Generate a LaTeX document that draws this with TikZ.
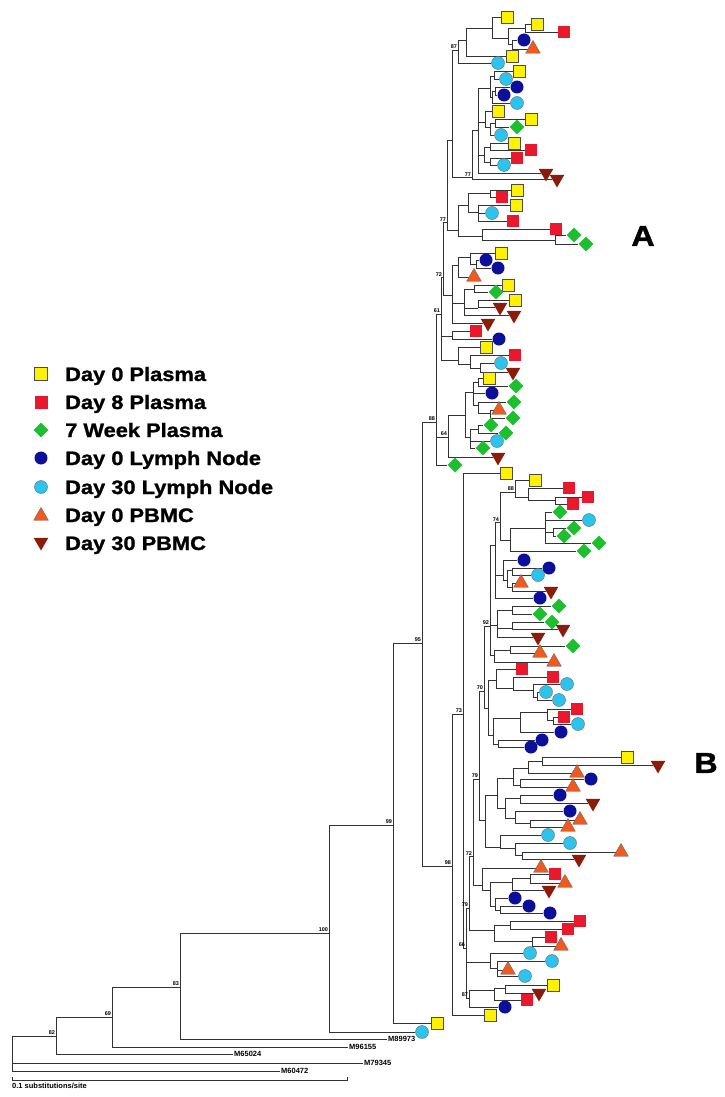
\documentclass[tikz,border=0pt]{standalone}
\usepackage{fontspec}
\setmainfont{Liberation Sans}
\newfontfamily\keyfont{Liberation Sans}[FakeStretch=1.12, BoldFeatures={FakeBold=1.2}]
\usetikzlibrary{shapes.geometric, backgrounds}

\definecolor{plasmaY}{HTML}{FFF200}
\definecolor{plasmaR}{HTML}{E8192C}
\definecolor{weekG}{HTML}{1DBF2F}
\definecolor{lymphB}{HTML}{0B0F9A}
\definecolor{lymphC}{HTML}{2CC4EC}
\definecolor{pbmcO}{HTML}{F05A1E}
\definecolor{pbmcD}{HTML}{8A1C0C}

\tikzset{
  sqY/.style={rectangle, draw=black!70, line width=0.4pt, fill=plasmaY, minimum size=12pt, inner sep=0pt},
  sqR/.style={rectangle, fill=plasmaR, minimum size=12.5pt, inner sep=0pt},
  dmG/.style={diamond, fill=weekG, minimum size=15pt, inner sep=0pt},
  ciB/.style={circle, fill=lymphB, minimum size=13pt, inner sep=0pt},
  ciC/.style={circle, draw=black!60, line width=0.4pt, fill=lymphC, minimum size=13pt, inner sep=0pt},
  trO/.style={regular polygon, regular polygon sides=3, draw=black!60, line width=0.4pt, fill=pbmcO, minimum size=17pt, inner sep=0pt},
  trD/.style={regular polygon, regular polygon sides=3, shape border rotate=180, fill=pbmcD, minimum size=17pt, inner sep=0pt},
  taxon/.style={anchor=west, inner sep=1pt, font=\bfseries\fontsize{7.5}{8}\selectfont},
  boot/.style={anchor=south east, inner sep=0.8pt, font=\bfseries\fontsize{5.5}{6}\selectfont},
  keytext/.style={anchor=base west, inner sep=0pt, font=\keyfont\bfseries\fontsize{19.5}{22}\selectfont},
  clade/.style={inner sep=0pt, font=\keyfont\bfseries\fontsize{29}{30}\selectfont},
  branch/.style={line width=0.7pt, black!80},
}

\begin{document}
\begin{tikzpicture}[x=1pt, y=-1pt]
\useasboundingbox (0,0) rectangle (724,1097);

% backbone
\coordinate (r) at (12,1050);
\coordinate (n82) at (56,1036);
\coordinate (n69) at (112,1017);
\coordinate (n83) at (180,987);
\coordinate (n100) at (329,933);
\coordinate (n99) at (393,825);
\coordinate (n95) at (422,643);
\coordinate (n88) at (436,422);
\coordinate (n98) at (452,866);
\coordinate (n73) at (463,714);

\node[taxon] (m79345) at (363,1063) {M79345};
\node[taxon] (m60472) at (280,1071) {M60472};
\node[taxon] (m65024) at (233,1054) {M65024};
\node[taxon] (m96155) at (348,1047) {M96155};
\node[taxon] (m89973) at (387,1039) {M89973};
\node[ciC] (o1) at (422,1032) {};
\node[sqY] (o2) at (437,1023) {};

% clade A
\coordinate (n61) at (441,314);
\coordinate (n64) at (448,437);
\coordinate (n72a) at (443,277);
\coordinate (nA41) at (452,336);
\coordinate (nA43) at (458,360);
\coordinate (nA44) at (470,364);
\coordinate (nA45) at (480,368);
\coordinate (n77a) at (447,222);
\coordinate (nA31) at (452,295);
\coordinate (nA32) at (458,265);
\coordinate (nA32b) at (470,257);
\coordinate (nA33) at (476,264);
\coordinate (nA35) at (464,303);
\coordinate (nA36) at (474,289);
\coordinate (nA37) at (478,308);
\coordinate (nTop) at (452,140);
\coordinate (nK5) at (458,230);
\coordinate (nK5x) at (468,205);
\coordinate (nK5a) at (490,193);
\coordinate (nK5c) at (478,212);
\coordinate (nK5y) at (482,236);
\coordinate (nK5f) at (555,240);
\coordinate (n87) at (458,50);
\coordinate (n87a) at (466,40);
\coordinate (nK1) at (492,28);
\coordinate (nK1b) at (508,38);
\coordinate (nK1c) at (525,28);
\coordinate (nK1d) at (512,44);
\coordinate (n77b) at (472,177);
\coordinate (nMid) at (478,130);
\coordinate (nK2) at (490,88);
\coordinate (nK2a) at (494,76);
\coordinate (nK2b) at (492,97);
\coordinate (nK2c) at (495,91);
\coordinate (nK3) at (485,122);
\coordinate (nK3a) at (490,127);
\coordinate (nK3b) at (495,123);
\coordinate (nK4) at (484,155);
\coordinate (nK4a) at (490,147);
\coordinate (nK4b) at (490,162);
\coordinate (nB1) at (465,415);
\coordinate (nB2) at (473,392);
\coordinate (nB2a) at (478,382);
\coordinate (nB2b) at (478,405);
\coordinate (nB2c) at (490,413);
\coordinate (nB3) at (470,437);
\coordinate (nB3a) at (478,429);

\node[sqY] (a1) at (507,17) {};
\node[sqY] (a2) at (537,24) {};
\node[sqR] (a3) at (564,32) {};
\node[ciB] (a4) at (524,40) {};
\node[trO] (a5) at (533,49) {};
\node[sqY] (a6) at (512,56) {};
\node[ciC] (a7) at (498,63) {};
\node[sqY] (a8) at (519,71) {};
\node[ciC] (a9) at (506,79) {};
\node[ciB] (a10) at (517,87) {};
\node[ciB] (a11) at (504,95) {};
\node[ciC] (a12) at (517,103) {};
\node[sqY] (a13) at (498,111) {};
\node[sqY] (a14) at (531,119) {};
\node[dmG] (a15) at (517,127) {};
\node[ciC] (a16) at (501,135) {};
\node[sqY] (a17) at (514,143) {};
\node[sqR] (a18) at (531,150) {};
\node[sqR] (a19) at (517,158) {};
\node[ciC] (a20) at (504,165) {};
\node[trD] (a21) at (546,173) {};
\node[trD] (a22) at (557,179) {};
\node[sqY] (a23) at (517,190) {};
\node[sqR] (a24) at (502,197) {};
\node[sqY] (a25) at (516,205) {};
\node[ciC] (a26) at (492,213) {};
\node[sqR] (a27) at (513,221) {};
\node[sqR] (a28) at (556,229) {};
\node[dmG] (a29) at (574,235) {};
\node[dmG] (a30) at (586,244) {};
\node[sqY] (a31) at (501,253) {};
\node[ciB] (a32) at (486,260) {};
\node[ciB] (a33) at (498,268) {};
\node[trO] (a34) at (474,277) {};
\node[sqY] (a35) at (508,285) {};
\node[dmG] (a36) at (496,292) {};
\node[sqY] (a37) at (515,300) {};
\node[trD] (a38) at (500,307) {};
\node[trD] (a39) at (514,315) {};
\node[trD] (a40) at (488,323) {};
\node[sqR] (a41) at (476,331) {};
\node[ciB] (a42) at (499,339) {};
\node[sqY] (a43) at (486,347) {};
\node[sqR] (a44) at (515,355) {};
\node[ciC] (a45) at (501,363) {};
\node[trD] (a46) at (513,372) {};
\node[sqY] (a47) at (489,378) {};
\node[dmG] (a48) at (516,386) {};
\node[ciB] (a49) at (492,393) {};
\node[dmG] (a50) at (514,402) {};
\node[trO] (a51) at (499,410) {};
\node[dmG] (a52) at (513,418) {};
\node[dmG] (a53) at (491,425) {};
\node[dmG] (a54) at (506,433) {};
\node[ciC] (a55) at (497,441) {};
\node[dmG] (a56) at (483,448) {};
\node[trD] (a57) at (498,457) {};
\node[dmG] (a58) at (455,465) {};

% clade B
\coordinate (n66) at (466,948);
\coordinate (n79c) at (469,908);
\coordinate (n87b) at (469,998);
\coordinate (nL1) at (490,962);
\coordinate (nL1a) at (497,968);
\coordinate (nL2) at (494,990);
\coordinate (nL2a) at (505,988);
\coordinate (n72b) at (473,856);
\coordinate (nRa) at (494,930);
\coordinate (nRb) at (510,925);
\coordinate (nRc) at (532,941);
\coordinate (n79b) at (479,779);
\coordinate (nS) at (482,885);
\coordinate (nSa) at (490,890);
\coordinate (nSb) at (512,882);
\coordinate (nSb1) at (530,878);
\coordinate (nSc) at (495,906);
\coordinate (nSd) at (500,910);
\coordinate (n70) at (484,691);
\coordinate (nT) at (485,820);
\coordinate (nT1) at (497,795);
\coordinate (nT1a) at (513,778);
\coordinate (nT1c) at (528,768);
\coordinate (nT1d) at (542,761);
\coordinate (nT1f) at (520,785);
\coordinate (nT1b) at (505,808);
\coordinate (nT1g) at (520,798);
\coordinate (nT1h) at (515,818);
\coordinate (nT1i) at (530,823);
\coordinate (nT2) at (500,847);
\coordinate (nT2a) at (515,848);
\coordinate (nT2b) at (522,855);
\coordinate (n92) at (490,626);
\coordinate (nU) at (488,708);
\coordinate (nU1) at (496,680);
\coordinate (nU1a) at (513,688);
\coordinate (nU1b) at (533,690);
\coordinate (nU1c) at (537,697);
\coordinate (nU2) at (493,735);
\coordinate (nU2a) at (520,718);
\coordinate (nU2b) at (547,712);
\coordinate (nU2c) at (553,720);
\coordinate (nU2d) at (498,744);
\coordinate (nV) at (495,545);
\coordinate (n74) at (500,522);
\coordinate (n88b) at (515,492);
\coordinate (nR1) at (528,497);
\coordinate (nR2) at (555,500);
\coordinate (nG) at (510,540);
\coordinate (nG1) at (545,528);
\coordinate (nG1b) at (553,532);
\coordinate (nV1) at (503,575);
\coordinate (nV2) at (507,580);
\coordinate (nV3) at (512,570);
\coordinate (nV4) at (512,587);
\coordinate (nW) at (497,625);
\coordinate (nW1) at (512,610);
\coordinate (nW2) at (512,628);
\coordinate (nX2) at (494,655);
\coordinate (nX3) at (510,650);

\node[sqY] (b1) at (506,473) {};
\node[sqY] (b2) at (535,480) {};
\node[sqR] (b3) at (569,488) {};
\node[sqR] (b4) at (588,497) {};
\node[sqR] (b5) at (573,504) {};
\node[dmG] (b6) at (560,512) {};
\node[ciC] (b7) at (589,520) {};
\node[dmG] (b8) at (574,528) {};
\node[dmG] (b9) at (564,536) {};
\node[dmG] (b10) at (599,543) {};
\node[dmG] (b11) at (584,551) {};
\node[ciB] (b12) at (524,560) {};
\node[ciB] (b13) at (549,568) {};
\node[ciC] (b14) at (538,575) {};
\node[trO] (b15) at (521,583) {};
\node[trD] (b16) at (551,591) {};
\node[ciB] (b17) at (540,598) {};
\node[dmG] (b18) at (559,606) {};
\node[dmG] (b19) at (540,614) {};
\node[dmG] (b20) at (552,622) {};
\node[trD] (b21) at (563,629) {};
\node[trD] (b22) at (538,637) {};
\node[dmG] (b23) at (573,646) {};
\node[trO] (b24) at (540,653) {};
\node[trO] (b25) at (554,662) {};
\node[sqR] (b26) at (522,669) {};
\node[sqR] (b27) at (553,677) {};
\node[ciC] (b28) at (567,684) {};
\node[ciC] (b29) at (546,692) {};
\node[ciC] (b30) at (559,700) {};
\node[sqR] (b31) at (577,709) {};
\node[sqR] (b32) at (564,717) {};
\node[ciC] (b33) at (578,724) {};
\node[ciB] (b34) at (561,732) {};
\node[ciB] (b35) at (542,740) {};
\node[ciB] (b36) at (531,747) {};
\node[sqY] (b37) at (627,757) {};
\node[trD] (b38) at (658,765) {};
\node[trO] (b39) at (577,773) {};
\node[ciB] (b40) at (591,779) {};
\node[trO] (b41) at (573,787) {};
\node[ciB] (b42) at (560,795) {};
\node[trD] (b43) at (593,803) {};
\node[ciB] (b44) at (570,811) {};
\node[trO] (b45) at (580,820) {};
\node[trO] (b46) at (568,827) {};
\node[ciC] (b47) at (548,835) {};
\node[ciC] (b48) at (570,843) {};
\node[trO] (b49) at (621,852) {};
\node[trD] (b50) at (579,859) {};
\node[trO] (b51) at (541,868) {};
\node[sqR] (b52) at (555,874) {};
\node[trO] (b53) at (565,883) {};
\node[trD] (b54) at (549,890) {};
\node[ciB] (b55) at (515,898) {};
\node[ciB] (b56) at (529,906) {};
\node[ciB] (b57) at (550,913) {};
\node[sqR] (b58) at (580,921) {};
\node[sqR] (b59) at (568,929) {};
\node[sqR] (b60) at (551,937) {};
\node[trO] (b61) at (561,946) {};
\node[ciC] (b62) at (530,953) {};
\node[ciC] (b63) at (552,961) {};
\node[trO] (b64) at (508,970) {};
\node[ciC] (b65) at (525,976) {};
\node[sqY] (b66) at (553,985) {};
\node[trD] (b67) at (539,993) {};
\node[sqR] (b68) at (527,1000) {};
\node[ciB] (b69) at (505,1007) {};
\node[sqY] (b70) at (490,1015) {};

% bootstrap values
\node[boot] (l87) at (n87) {87};
\node[boot] (l77b) at (n77b) {77};
\node[boot] (l77a) at (n77a) {77};
\node[boot] (l72a) at (n72a) {72};
\node[boot] (l61) at (n61) {61};
\node[boot] (l88) at (n88) {88};
\node[boot] (l64) at (n64) {64};
\node[boot] (l88b) at (n88b) {88};
\node[boot] (l74) at (n74) {74};
\node[boot] (l92) at (n92) {92};
\node[boot] (l70) at (n70) {70};
\node[boot] (l79b) at (n79b) {79};
\node[boot] (l72b) at (n72b) {72};
\node[boot] (l79c) at (n79c) {79};
\node[boot] (l66) at (n66) {66};
\node[boot] (l87b) at (n87b) {87};
\node[boot] (l73) at (n73) {73};
\node[boot] (l95) at (n95) {95};
\node[boot] (l98) at (n98) {98};
\node[boot] (l99) at (n99) {99};
\node[boot] (l100) at (n100) {100};
\node[boot] (l83) at (n83) {83};
\node[boot] (l69) at (n69) {69};
\node[boot] (l82) at (n82) {82};

% key
\node[sqY, minimum size=13pt] (k1) at (41,374) {};
\node[sqR, minimum size=13pt] (k2) at (41,402) {};
\node[dmG] (k3) at (41,430) {};
\node[ciB] (k4) at (41,458) {};
\node[ciC] (k5) at (41,487) {};
\node[trO] (k6) at (41,516) {};
\node[trD] (k7) at (41,542) {};
\node[keytext] (t1) at (65,381) {Day 0 Plasma};
\node[keytext] (t2) at (65,409) {Day 8 Plasma};
\node[keytext] (t3) at (65,437) {7 Week Plasma};
\node[keytext] (t4) at (65,465) {Day 0 Lymph Node};
\node[keytext] (t5) at (65,494) {Day 30 Lymph Node};
\node[keytext] (t6) at (65,522) {Day 0 PBMC};
\node[keytext] (t7) at (65,550) {Day 30 PBMC};

\node[clade] (cA) at (643,236) {A};
\node[clade] (cB) at (706,763) {B};

% scale bar
\coordinate (sbl) at (12,1080);
\coordinate (sbr) at (347,1080);
\node[anchor=north west, inner sep=0pt, font=\bfseries\fontsize{7.5}{8}\selectfont] (sbt) at (12,1083) {0.1 substitutions/site};

\begin{scope}[on background layer]
\fill[white] (0,0) rectangle (724,1097);
\draw[branch] (sbl) ++(0,-3) -- (sbl) -- (sbr) -- ++(0,-3);
\draw[branch] (r) |- (n82) (r) |- (m79345) (r) |- (m60472);
\draw[branch] (n82) |- (n69) (n82) |- (m65024);
\draw[branch] (n69) |- (n83) (n69) |- (m96155);
\draw[branch] (n83) |- (n100) (n83) |- (m89973);
\draw[branch] (n100) |- (n99) (n100) |- (o1);
\draw[branch] (n99) |- (n95) (n99) |- (o2);
\draw[branch] (n95) |- (n88) (n95) |- (n98);
\draw[branch] (n98) |- (n73) (n98) |- (b70);
% clade A
\draw[branch] (n88) |- (n61) (n88) |- (n64) (n88) |- (a58);
\draw[branch] (n61) |- (n72a) (n61) |- (nA41) (n61) |- (nA43);
\draw[branch] (nA41) |- (a41) (nA41) |- (a42);
\draw[branch] (nA43) |- (a43) (nA43) |- (nA44);
\draw[branch] (nA44) |- (a44) (nA44) |- (nA45);
\draw[branch] (nA45) |- (a45) (nA45) |- (a46);
\draw[branch] (n72a) |- (n77a) (n72a) |- (nA31);
\draw[branch] (nA31) |- (nA32) (nA31) |- (nA35) (nA31) |- (a40);
\draw[branch] (nA32) |- (nA32b) (nA32) |- (a34);
\draw[branch] (nA32b) |- (a31) (nA32b) |- (nA33);
\draw[branch] (nA33) |- (a32) (nA33) |- (a33);
\draw[branch] (nA35) |- (nA36) (nA35) |- (nA37) (nA35) |- (a39);
\draw[branch] (nA36) |- (a35) (nA36) |- (a36);
\draw[branch] (nA37) |- (a37) (nA37) |- (a38);
\draw[branch] (n77a) |- (nTop) (n77a) |- (nK5);
\draw[branch] (nK5) |- (nK5x) (nK5) |- (nK5y);
\draw[branch] (nK5x) |- (nK5a) (nK5x) |- (nK5c);
\draw[branch] (nK5a) |- (a23) (nK5a) |- (a24);
\draw[branch] (nK5c) |- (a25) (nK5c) |- (a26) (nK5c) |- (a27);
\draw[branch] (nK5y) |- (a28) (nK5y) |- (nK5f);
\draw[branch] (nK5f) |- (a29) (nK5f) |- (a30);
\draw[branch] (nTop) |- (n87) (nTop) |- (n77b);
\draw[branch] (n87) |- (n87a) (n87) |- (a7);
\draw[branch] (n87a) |- (nK1) (n87a) |- (a6);
\draw[branch] (nK1) |- (a1) (nK1) |- (nK1b);
\draw[branch] (nK1b) |- (nK1c) (nK1b) |- (nK1d);
\draw[branch] (nK1c) |- (a2) (nK1c) |- (a3);
\draw[branch] (nK1d) |- (a4) (nK1d) |- (a5);
\draw[branch] (n77b) |- (nMid) (n77b) |- (a22);
\draw[branch] (nMid) |- (nK2) (nMid) |- (nK3) (nMid) |- (nK4) (nMid) |- (a21);
\draw[branch] (nK2) |- (nK2a) (nK2) |- (nK2b);
\draw[branch] (nK2a) |- (a8) (nK2a) |- (a9);
\draw[branch] (nK2b) |- (nK2c) (nK2b) |- (a12);
\draw[branch] (nK2c) |- (a10) (nK2c) |- (a11);
\draw[branch] (nK3) |- (a13) (nK3) |- (nK3a);
\draw[branch] (nK3a) |- (nK3b) (nK3a) |- (a16);
\draw[branch] (nK3b) |- (a14) (nK3b) |- (a15);
\draw[branch] (nK4) |- (nK4a) (nK4) |- (nK4b);
\draw[branch] (nK4a) |- (a17) (nK4a) |- (a18);
\draw[branch] (nK4b) |- (a19) (nK4b) |- (a20);
\draw[branch] (n64) |- (nB1) (n64) |- (a57);
\draw[branch] (nB1) |- (nB2) (nB1) |- (nB3);
\draw[branch] (nB2) |- (nB2a) (nB2) |- (a49) (nB2) |- (nB2b);
\draw[branch] (nB2a) |- (a47) (nB2a) |- (a48);
\draw[branch] (nB2b) |- (a50) (nB2b) |- (nB2c);
\draw[branch] (nB2c) |- (a51) (nB2c) |- (a52);
\draw[branch] (nB3) |- (nB3a) (nB3) |- (a55) (nB3) |- (a56);
\draw[branch] (nB3a) |- (a53) (nB3a) |- (a54);
% clade B
\draw[branch] (n73) |- (b1) (n73) |- (n66);
\draw[branch] (n66) |- (n79c) (n66) |- (nL1) (n66) |- (n87b);
\draw[branch] (nL1) |- (b62) (nL1) |- (nL1a);
\draw[branch] (nL1a) |- (b63) (nL1a) |- (b64) (nL1a) |- (b65);
\draw[branch] (n87b) |- (nL2) (n87b) |- (b69);
\draw[branch] (nL2) |- (nL2a) (nL2) |- (b68);
\draw[branch] (nL2a) |- (b66) (nL2a) |- (b67);
\draw[branch] (n79c) |- (n72b) (n79c) |- (nRa);
\draw[branch] (nRa) |- (nRb) (nRa) |- (nRc);
\draw[branch] (nRb) |- (b58) (nRb) |- (b59);
\draw[branch] (nRc) |- (b60) (nRc) |- (b61);
\draw[branch] (n72b) |- (n79b) (n72b) |- (nS);
\draw[branch] (nS) |- (b51) (nS) |- (nSa);
\draw[branch] (nSa) |- (nSb) (nSa) |- (nSc);
\draw[branch] (nSb) |- (nSb1) (nSb) |- (b54);
\draw[branch] (nSb1) |- (b52) (nSb1) |- (b53);
\draw[branch] (nSc) |- (b55) (nSc) |- (nSd);
\draw[branch] (nSd) |- (b56) (nSd) |- (b57);
\draw[branch] (n79b) |- (n70) (n79b) |- (nT);
\draw[branch] (nT) |- (nT1) (nT) |- (nT2);
\draw[branch] (nT1) |- (nT1a) (nT1) |- (nT1b);
\draw[branch] (nT1a) |- (nT1c) (nT1a) |- (nT1f);
\draw[branch] (nT1c) |- (nT1d) (nT1c) |- (b39);
\draw[branch] (nT1d) |- (b37) (nT1d) |- (b38);
\draw[branch] (nT1f) |- (b40) (nT1f) |- (b41);
\draw[branch] (nT1b) |- (nT1g) (nT1b) |- (nT1h);
\draw[branch] (nT1g) |- (b42) (nT1g) |- (b43);
\draw[branch] (nT1h) |- (b44) (nT1h) |- (nT1i);
\draw[branch] (nT1i) |- (b45) (nT1i) |- (b46);
\draw[branch] (nT2) |- (b47) (nT2) |- (nT2a);
\draw[branch] (nT2a) |- (b48) (nT2a) |- (nT2b);
\draw[branch] (nT2b) |- (b49) (nT2b) |- (b50);
\draw[branch] (n70) |- (n92) (n70) |- (nU);
\draw[branch] (nU) |- (nU1) (nU) |- (nU2);
\draw[branch] (nU1) |- (b26) (nU1) |- (nU1a);
\draw[branch] (nU1a) |- (b27) (nU1a) |- (nU1b);
\draw[branch] (nU1b) |- (b28) (nU1b) |- (nU1c);
\draw[branch] (nU1c) |- (b29) (nU1c) |- (b30);
\draw[branch] (nU2) |- (nU2a) (nU2) |- (nU2d);
\draw[branch] (nU2a) |- (nU2b) (nU2a) |- (b34);
\draw[branch] (nU2b) |- (b31) (nU2b) |- (nU2c);
\draw[branch] (nU2c) |- (b32) (nU2c) |- (b33);
\draw[branch] (nU2d) |- (b35) (nU2d) |- (b36);
\draw[branch] (n92) |- (nV) (n92) |- (nW) (n92) |- (nX2);
\draw[branch] (nV) |- (n74) (nV) |- (nV1) (nV) |- (b17);
\draw[branch] (n74) |- (n88b) (n74) |- (nG);
\draw[branch] (n88b) |- (b2) (n88b) |- (nR1);
\draw[branch] (nR1) |- (b3) (nR1) |- (nR2);
\draw[branch] (nR2) |- (b4) (nR2) |- (b5);
\draw[branch] (nG) |- (nG1) (nG) |- (b11);
\draw[branch] (nG1) |- (b6) (nG1) |- (b7) (nG1) |- (nG1b) (nG1) |- (b10);
\draw[branch] (nG1b) |- (b8) (nG1b) |- (b9);
\draw[branch] (nV1) |- (b12) (nV1) |- (nV2);
\draw[branch] (nV2) |- (nV3) (nV2) |- (nV4);
\draw[branch] (nV3) |- (b13) (nV3) |- (b14);
\draw[branch] (nV4) |- (b15) (nV4) |- (b16);
\draw[branch] (nW) |- (nW1) (nW) |- (nW2) (nW) |- (b22);
\draw[branch] (nW1) |- (b18) (nW1) |- (b19);
\draw[branch] (nW2) |- (b20) (nW2) |- (b21);
\draw[branch] (nX2) |- (nX3) (nX2) |- (b25);
\draw[branch] (nX3) |- (b23) (nX3) |- (b24);
\end{scope}
\end{tikzpicture}
\end{document}
